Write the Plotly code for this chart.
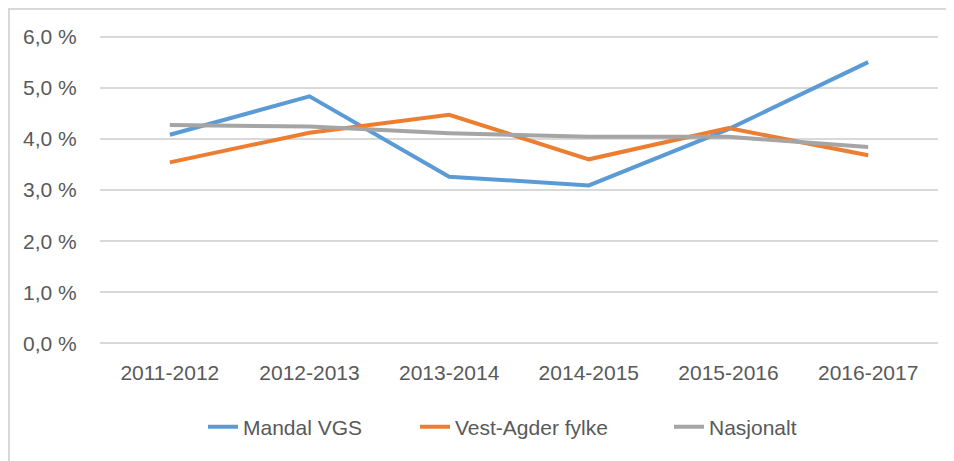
import plotly.graph_objects as go

categories = ["2011-2012", "2012-2013", "2013-2014", "2014-2015", "2015-2016", "2016-2017"]
mandal_vgs = [4.08, 4.83, 3.26, 3.09, 4.19, 5.50]
vest_agder = [3.54, 4.12, 4.47, 3.60, 4.21, 3.68]
nasjonalt = [4.27, 4.24, 4.11, 4.04, 4.04, 3.84]
y_tickvals = [0, 1, 2, 3, 4, 5, 6]
y_ticktext = ["0,0 %", "1,0 %", "2,0 %", "3,0 %", "4,0 %", "5,0 %", "6,0 %"]

series = [
    ("Mandal VGS", mandal_vgs, "#5B9BD5", "legend", 0.1229),
    ("Vest-Agder fylke", vest_agder, "#ED7D31", "legend2", 0.3759),
    ("Nasjonalt", nasjonalt, "#A5A5A5", "legend3", 0.6790),
]

font_family = "'Liberation Sans', Arial, sans-serif"
FS = 21
TXT = "#595959"

fig = go.Figure()
for name, vals, color, leg, _ in series:
    fig.add_trace(go.Scatter(
        x=categories, y=vals, name=name, mode="lines", legend=leg,
        line=dict(color=color, width=4, shape="linear"),
    ))

T, B, L, R = 27, 124, 92, 24
plot_h = 461 - T - B
plot_w = 954 - L - R

legend_y = -0.265
legends = {}
for name, vals, color, leg, lx in series:
    legends[leg] = dict(orientation="h", x=lx, y=legend_y, xanchor="left", yanchor="middle",
                        font=dict(size=FS, color=TXT, family=font_family), itemwidth=30,
                        bgcolor="rgba(0,0,0,0)")

fig.update_layout(
    width=954, height=461,
    margin=dict(l=L, r=R, t=T, b=B),
    paper_bgcolor="white", plot_bgcolor="white",
    font=dict(family=font_family, size=FS, color=TXT),
    showlegend=True,
    **legends,
    xaxis=dict(type="category", range=[-0.5, 5.5], showgrid=False, zeroline=False, showline=False,
               ticks="outside", ticklen=9, tickcolor="rgba(0,0,0,0)",
               tickfont=dict(size=FS, color=TXT)),
    yaxis=dict(range=[-0.03, 6.03], tickvals=y_tickvals, ticktext=y_ticktext,
               showgrid=True, gridcolor="#D9D9D9", gridwidth=1.5,
               zeroline=False, showline=False,
               ticks="outside", ticklen=18, tickcolor="rgba(0,0,0,0)",
               tickfont=dict(size=FS, color=TXT)),
    shapes=[dict(type="rect", xref="paper", yref="paper",
                 x0=(1 - L) / plot_w, x1=1.2, y0=-0.6, y1=(plot_h + T - 1) / plot_h,
                 line=dict(color="#D9D9D9", width=2), layer="below")],
)

fig.write_html("out.html")
